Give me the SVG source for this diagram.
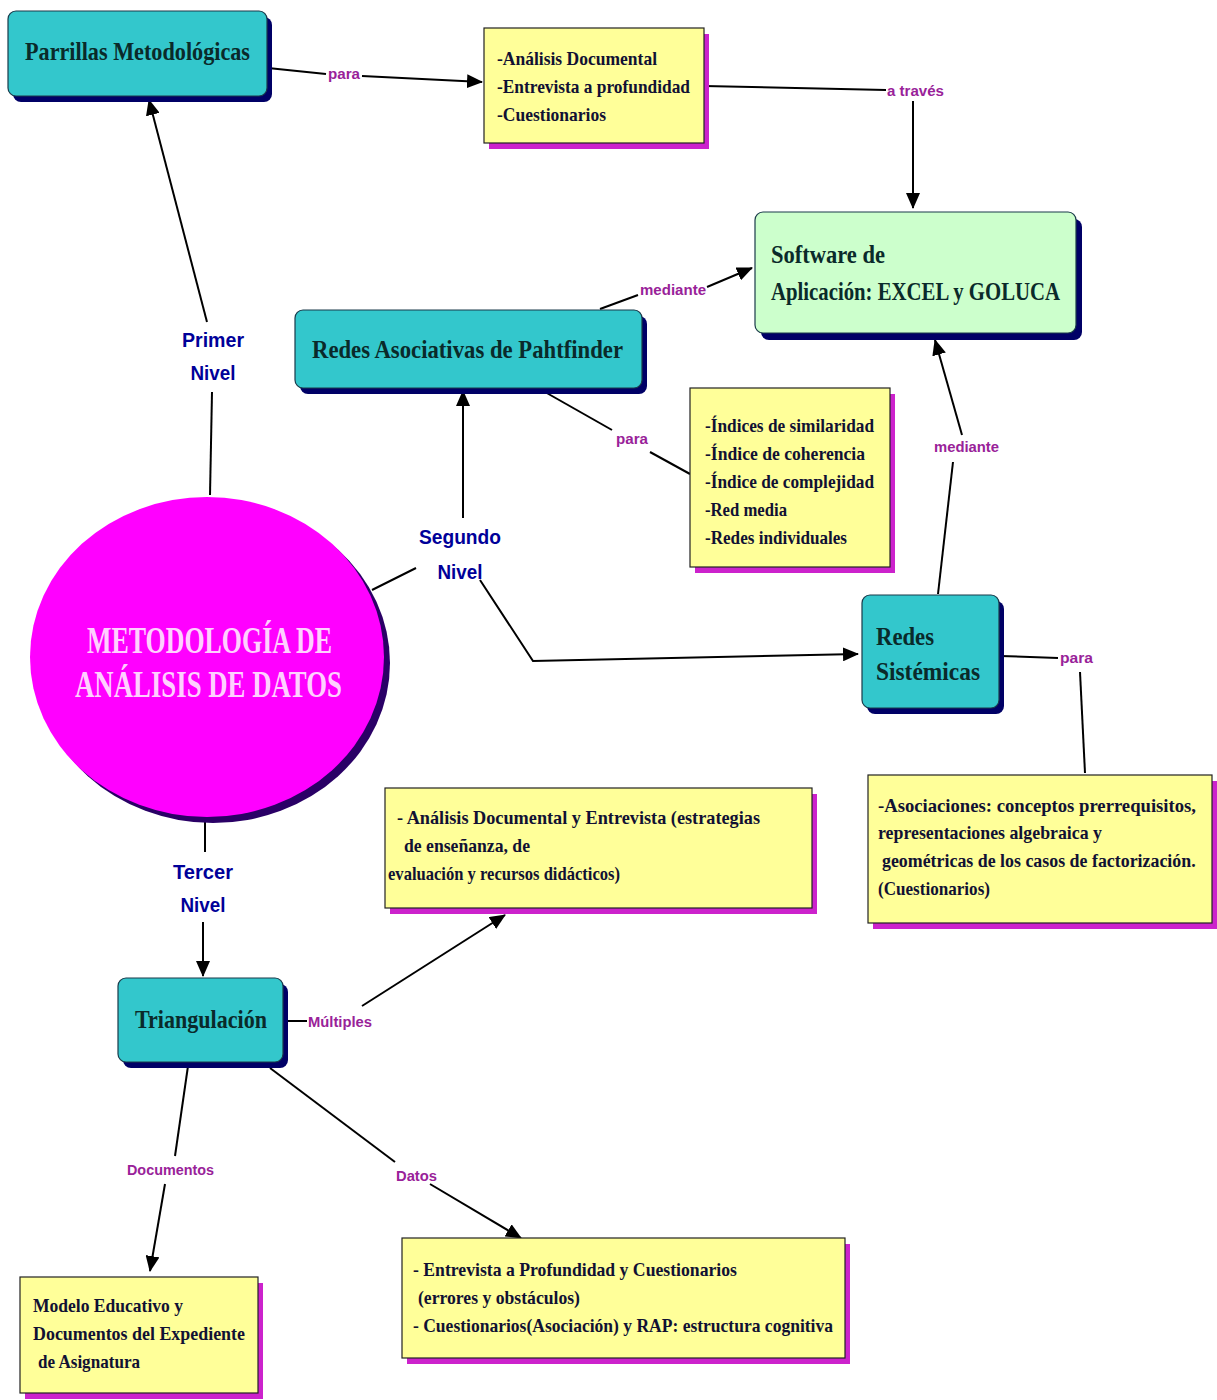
<svg xmlns="http://www.w3.org/2000/svg" width="1217" height="1400" viewBox="0 0 1217 1400">
<defs>
<marker id="arr" markerUnits="userSpaceOnUse" markerWidth="16" markerHeight="14" refX="15" refY="7" orient="auto">
<path d="M0,0 L16,7 L0,14 Z" fill="#000"/>
</marker>
</defs>
<style>
.teal{fill:#33c7cc;stroke:#1a3a4a;stroke-width:1.2}
.tsh{fill:#000066}
.yel{fill:#ffff99;stroke:#222;stroke-width:1.2}
.ysh{fill:#cc22cc}
.green{fill:#ccffcc;stroke:#1a3a4a;stroke-width:1.2}
.nt{font-family:"Liberation Serif",serif;font-weight:bold;font-size:26px;fill:#0a2a2a}
.bt{font-family:"Liberation Serif",serif;font-weight:bold;font-size:19.5px;fill:#111133}
.el{font-family:"Liberation Serif",serif;font-weight:bold;font-size:37px;fill:#ffd0ff}
.lab{font-family:"Liberation Sans",sans-serif;font-weight:bold;font-size:14px;fill:#992299}
.lev{font-family:"Liberation Sans",sans-serif;font-weight:bold;font-size:20px;fill:#000099;text-anchor:middle}
.c{fill:none;stroke:#000;stroke-width:2}
.ca{fill:none;stroke:#000;stroke-width:2;marker-end:url(#arr)}
</style>

<g id="connectors">
<line class="c" x1="268" y1="68" x2="326" y2="74"/>
<line class="ca" x1="362" y1="76" x2="482" y2="82"/>
<line class="c" x1="704" y1="86" x2="886" y2="90"/>
<line class="ca" x1="913" y1="101" x2="913" y2="208"/>
<line class="c" x1="210" y1="495" x2="212" y2="392"/>
<line class="ca" x1="207" y1="322" x2="149" y2="100"/>
<line class="c" x1="372" y1="590" x2="416" y2="568"/>
<line class="ca" x1="463" y1="518" x2="463" y2="391"/>
<polyline class="ca" points="480,580 533,661 858,654"/>
<line class="c" x1="600" y1="309" x2="638" y2="295"/>
<line class="ca" x1="707" y1="287" x2="752" y2="268"/>
<line class="c" x1="545" y1="392" x2="612" y2="430"/>
<line class="c" x1="650" y1="452" x2="690" y2="474"/>
<line class="c" x1="938" y1="594" x2="953" y2="462"/>
<line class="ca" x1="962" y1="435" x2="935" y2="340"/>
<line class="c" x1="1000" y1="656" x2="1058" y2="658"/>
<line class="c" x1="1080" y1="672" x2="1085" y2="773"/>
<line class="c" x1="205" y1="820" x2="205" y2="852"/>
<line class="ca" x1="203" y1="922" x2="203" y2="976"/>
<line class="c" x1="285" y1="1021" x2="307" y2="1021"/>
<line class="ca" x1="362" y1="1006" x2="505" y2="915"/>
<line class="c" x1="188" y1="1066" x2="175" y2="1156"/>
<line class="ca" x1="165" y1="1184" x2="150" y2="1271"/>
<line class="c" x1="270" y1="1068" x2="395" y2="1162"/>
<line class="ca" x1="430" y1="1184" x2="521" y2="1238"/>
<text class="lab" x="328" y="79" textLength="32" lengthAdjust="spacingAndGlyphs">para</text>
<text class="lab" x="887" y="96" textLength="57" lengthAdjust="spacingAndGlyphs">a través</text>
<text class="lab" x="640" y="295" textLength="66" lengthAdjust="spacingAndGlyphs">mediante</text>
<text class="lab" x="616" y="444" textLength="32" lengthAdjust="spacingAndGlyphs">para</text>
<text class="lab" x="934" y="452" textLength="65" lengthAdjust="spacingAndGlyphs">mediante</text>
<text class="lab" x="1060" y="663" textLength="33" lengthAdjust="spacingAndGlyphs">para</text>
<text class="lab" x="308" y="1027" textLength="64" lengthAdjust="spacingAndGlyphs">Múltiples</text>
<text class="lab" x="127" y="1175" textLength="87" lengthAdjust="spacingAndGlyphs">Documentos</text>
<text class="lab" x="396" y="1181" textLength="41" lengthAdjust="spacingAndGlyphs">Datos</text>
<text class="lev" x="213" y="347" textLength="62" lengthAdjust="spacingAndGlyphs">Primer</text>
<text class="lev" x="213" y="380" textLength="45" lengthAdjust="spacingAndGlyphs">Nivel</text>
<text class="lev" x="460" y="544" textLength="82" lengthAdjust="spacingAndGlyphs">Segundo</text>
<text class="lev" x="460" y="579" textLength="45" lengthAdjust="spacingAndGlyphs">Nivel</text>
<text class="lev" x="203" y="879" textLength="60" lengthAdjust="spacingAndGlyphs">Tercer</text>
<text class="lev" x="203" y="912" textLength="45" lengthAdjust="spacingAndGlyphs">Nivel</text>
</g>

<g id="n-parrillas">
<rect class="tsh" x="13" y="17" width="259" height="85" rx="8"/>
<rect class="teal" x="8" y="11" width="259" height="85" rx="8"/>
<text class="nt" x="25" y="60" textLength="225" lengthAdjust="spacingAndGlyphs">Parrillas Metodológicas</text>
</g>

<g id="n-instrumentos">
<rect class="ysh" x="489" y="34" width="220" height="115"/>
<rect class="yel" x="484" y="28" width="220" height="115"/>
<text class="bt" x="497" y="65" textLength="160" lengthAdjust="spacingAndGlyphs">-Análisis Documental</text>
<text class="bt" x="497" y="93" textLength="193" lengthAdjust="spacingAndGlyphs">-Entrevista a profundidad</text>
<text class="bt" x="497" y="121" textLength="109" lengthAdjust="spacingAndGlyphs">-Cuestionarios</text>
</g>

<g id="n-software">
<rect class="tsh" x="761" y="219" width="321" height="121" rx="8"/>
<rect class="green" x="755" y="212" width="321" height="121" rx="8"/>
<text class="nt" x="771" y="263" textLength="114" lengthAdjust="spacingAndGlyphs">Software de</text>
<text class="nt" x="771" y="300" textLength="289" lengthAdjust="spacingAndGlyphs">Aplicación: EXCEL y GOLUCA</text>
</g>

<g id="n-redes-asociativas">
<rect class="tsh" x="300" y="316" width="347" height="78" rx="8"/>
<rect class="teal" x="295" y="310" width="347" height="78" rx="8"/>
<text class="nt" x="312" y="358" textLength="311" lengthAdjust="spacingAndGlyphs">Redes Asociativas de Pahtfinder</text>
</g>

<g id="n-indices">
<rect class="ysh" x="695" y="394" width="200" height="179"/>
<rect class="yel" x="690" y="388" width="200" height="179"/>
<text class="bt" x="705" y="432" textLength="169" lengthAdjust="spacingAndGlyphs">-Índices de similaridad</text>
<text class="bt" x="705" y="460" textLength="160" lengthAdjust="spacingAndGlyphs">-Índice de coherencia</text>
<text class="bt" x="705" y="488" textLength="169" lengthAdjust="spacingAndGlyphs">-Índice de complejidad</text>
<text class="bt" x="705" y="516" textLength="82" lengthAdjust="spacingAndGlyphs">-Red media</text>
<text class="bt" x="705" y="544" textLength="142" lengthAdjust="spacingAndGlyphs">-Redes individuales</text>
</g>

<g id="n-metodologia">
<ellipse cx="213" cy="663" rx="177" ry="160" fill="#2a0066"/>
<ellipse cx="207" cy="657" rx="177" ry="160" fill="#ff00ff"/>
<text class="el" x="87" y="653" textLength="245" lengthAdjust="spacingAndGlyphs">METODOLOGÍA DE</text>
<text class="el" x="75" y="697" textLength="267" lengthAdjust="spacingAndGlyphs">ANÁLISIS DE DATOS</text>
</g>

<g id="n-redes-sistemicas">
<rect class="tsh" x="867" y="601" width="137" height="113" rx="8"/>
<rect class="teal" x="862" y="595" width="137" height="113" rx="8"/>
<text class="nt" x="876" y="645" textLength="58" lengthAdjust="spacingAndGlyphs">Redes</text>
<text class="nt" x="876" y="680" textLength="104" lengthAdjust="spacingAndGlyphs">Sistémicas</text>
</g>

<g id="n-asociaciones">
<rect class="ysh" x="873" y="781" width="344" height="148"/>
<rect class="yel" x="868" y="775" width="344" height="148"/>
<text class="bt" x="878" y="812" textLength="318" lengthAdjust="spacingAndGlyphs">-Asociaciones: conceptos prerrequisitos,</text>
<text class="bt" x="878" y="839" textLength="224" lengthAdjust="spacingAndGlyphs">representaciones algebraica y</text>
<text class="bt" transform="translate(882,867) scale(0.85,1)" x="0" y="0" textLength="369" lengthAdjust="spacingAndGlyphs">geométricas de los casos de factorización.</text>
<text class="bt" x="878" y="895" textLength="112" lengthAdjust="spacingAndGlyphs">(Cuestionarios)</text>
</g>

<g id="n-triangulacion">
<rect class="tsh" x="123" y="984" width="165" height="84" rx="8"/>
<rect class="teal" x="118" y="978" width="165" height="84" rx="8"/>
<text class="nt" x="135" y="1028" textLength="132" lengthAdjust="spacingAndGlyphs">Triangulación</text>
</g>

<g id="n-analisis">
<rect class="ysh" x="390" y="794" width="427" height="120"/>
<rect class="yel" x="385" y="788" width="427" height="120"/>
<text class="bt" x="397" y="824" textLength="363" lengthAdjust="spacingAndGlyphs">- Análisis Documental  y Entrevista (estrategias</text>
<text class="bt" x="404" y="852" textLength="126" lengthAdjust="spacingAndGlyphs">de enseñanza, de</text>
<text class="bt" x="388" y="880" textLength="232" lengthAdjust="spacingAndGlyphs">evaluación y recursos didácticos)</text>
</g>

<g id="n-modelo">
<rect class="ysh" x="25" y="1283" width="238" height="116"/>
<rect class="yel" x="20" y="1277" width="238" height="116"/>
<text class="bt" x="33" y="1312" textLength="150" lengthAdjust="spacingAndGlyphs">Modelo Educativo y</text>
<text class="bt" x="33" y="1340" textLength="212" lengthAdjust="spacingAndGlyphs">Documentos del Expediente</text>
<text class="bt" x="38" y="1368" textLength="102" lengthAdjust="spacingAndGlyphs">de Asignatura</text>
</g>

<g id="n-entrevista">
<rect class="ysh" x="407" y="1244" width="443" height="120"/>
<rect class="yel" x="402" y="1238" width="443" height="120"/>
<text class="bt" x="413" y="1276" textLength="324" lengthAdjust="spacingAndGlyphs">- Entrevista a Profundidad y Cuestionarios</text>
<text class="bt" x="418" y="1304" textLength="162" lengthAdjust="spacingAndGlyphs">(errores y obstáculos)</text>
<text class="bt" x="413" y="1332" textLength="420" lengthAdjust="spacingAndGlyphs">- Cuestionarios(Asociación) y RAP: estructura cognitiva</text>
</g>
</svg>
